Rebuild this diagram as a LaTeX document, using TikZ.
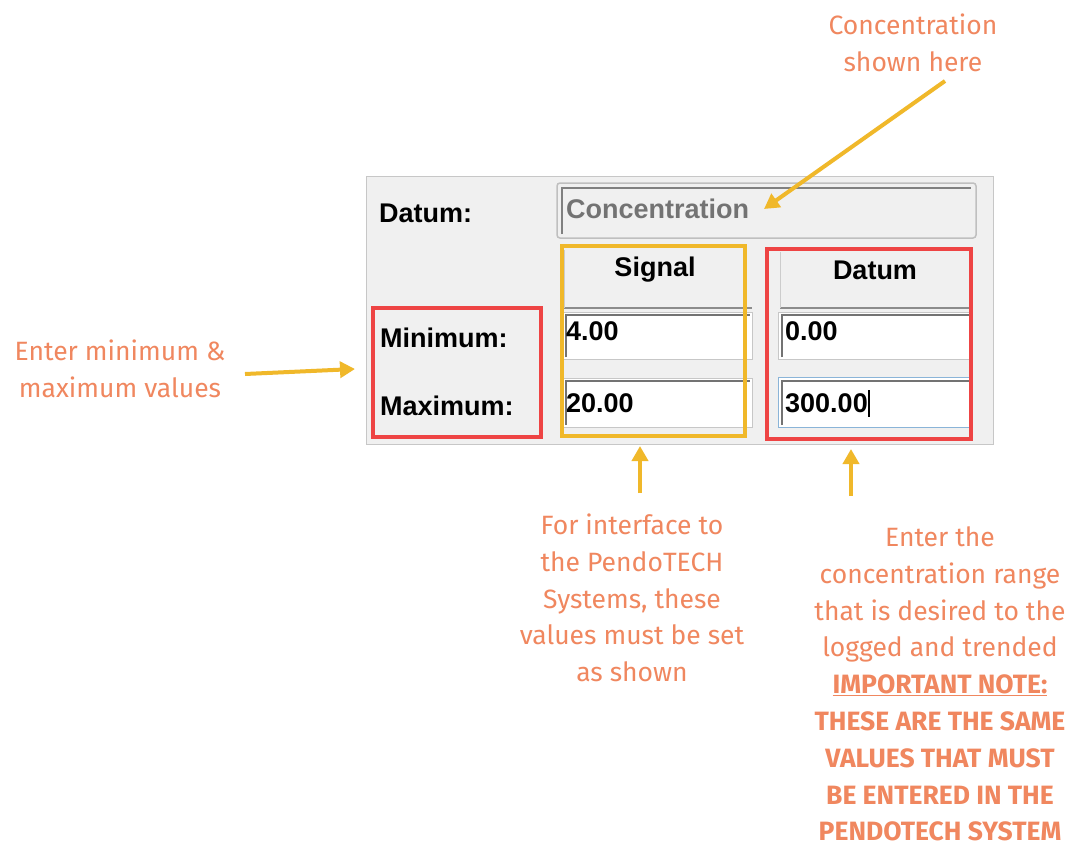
\documentclass[tikz,border=0pt]{standalone}
\usepackage{fontspec}
\setmainfont{Fira Sans}
\newfontfamily\panelfont{Liberation Sans}
\usetikzlibrary{arrows.meta}
\definecolor{notec}{HTML}{F0875F}
\definecolor{arrowc}{HTML}{F0B82A}
\definecolor{redbox}{HTML}{EE4444}
\definecolor{panelbg}{HTML}{F0F0F0}
\definecolor{fieldblue}{HTML}{8AB4D8}
\tikzset{
  note/.style={text=notec, font=\fontsize{26.5}{36.8}\selectfont, align=center, inner sep=0pt},
  yarrow/.style={draw=arrowc, line width=4pt, -{Triangle[length=15pt,width=16pt]}},
  lbl/.style={font=\panelfont\bfseries\fontsize{27}{30}\selectfont, text=black, inner sep=0pt, anchor=west},
  field/.style={fill=white, draw=black!22, line width=1pt},
  yelbox/.style={draw=arrowc, line width=3.5pt},
  redrect/.style={draw=redbox, line width=3.5pt},
}
\begin{document}
\begin{tikzpicture}[x=1pt,y=-1pt]
\useasboundingbox[fill=white] (0,0) rectangle (1088,846);

% panel
\draw[fill=panelbg, draw=black!22, line width=1pt] (366,176) rectangle (993,444);
% concentration field
\draw[fill=black!6, draw=black!25, line width=1.5pt, rounded corners=3pt] (557,183) rectangle (976,238);
\draw[black!50, line width=2pt] (562,234) -- (562,188) -- (971,188);
\node[lbl, text=black!55] (conc) at (566,209) {Concentration};
\node[lbl] (datumlbl) at (379,213) {Datum:};

% headers
\node[lbl, anchor=center] (sighead) at (655,270) {Signal};
\node[lbl, anchor=center] (dathead) at (875,270) {Datum};
\draw[black!45, line width=2pt] (564,308) -- (752,308);
\draw[black!45, line width=2pt] (780,308) -- (972,308);
\draw[black!20, line width=1pt] (564,250) -- (564,308);
\draw[black!20, line width=1pt] (780,252) -- (780,308);

% fields
\draw[field] (563,312) rectangle (752,359);
\draw[field] (563,378) rectangle (752,427);
\draw[field] (778,312) rectangle (972,359);
\draw[field, draw=fieldblue] (778,377) rectangle (972,427);
\draw[black!55, line width=2pt] (566,357) -- (566,315) -- (750,315);
\draw[black!55, line width=2pt] (566,425) -- (566,381) -- (750,381);
\draw[black!55, line width=2pt] (782,357) -- (782,315) -- (970,315);
\draw[black!55, line width=2pt] (782,425) -- (782,381) -- (970,381);

\node[lbl] (smin) at (566,331) {4.00};
\node[lbl] (smax) at (566,403) {20.00};
\node[lbl] (dmin) at (785,331) {0.00};
\node[lbl] (dmax) at (785,403) {300.00};
\draw[black, line width=1.2pt] (dmax.east) ++(1,-13) -- ++(0,27);

\node[lbl] (minlbl) at (380,338) {Minimum:};
\node[lbl] (maxlbl) at (380,406) {Maximum:};

% highlight boxes
\draw[yelbox] (562,246) rectangle (745,436);
\draw[redrect] (767,249) rectangle (971,439);
\draw[redrect] (373,308) rectangle (541,437);

% notes
\node[note] (ntop) at (913,43) {Concentration\\shown here};
\node[note] (nleft) at (120,369) {Enter minimum \&\\maximum values};
\node[note] (nmid) at (632,598) {For interface to\\the PendoTECH\\Systems, these\\values must be set\\as shown};
\node[note] (nright) at (940,684) {Enter the\\concentration range\\that is desired to the\\logged and trended\\\textbf{\underline{IMPORTANT NOTE:}}\\\textbf{THESE ARE THE SAME}\\\textbf{VALUES THAT MUST}\\\textbf{BE ENTERED IN THE}\\\textbf{PENDOTECH SYSTEM}};

% arrow ends
\coordinate (a1s) at (945,81);
\coordinate (a1e) at (764,209);
\coordinate (a2s) at (245,374);
\coordinate (a2e) at (355,369);
\coordinate (a3s) at (640,493);
\coordinate (a3e) at (640,446);
\coordinate (a4s) at (851,496);
\coordinate (a4e) at (851,449);
\draw[yarrow] (a1s) -- (a1e);
\draw[yarrow] (a2s) -- (a2e);
\draw[yarrow] (a3s) -- (a3e);
\draw[yarrow] (a4s) -- (a4e);
\end{tikzpicture}
\end{document}
